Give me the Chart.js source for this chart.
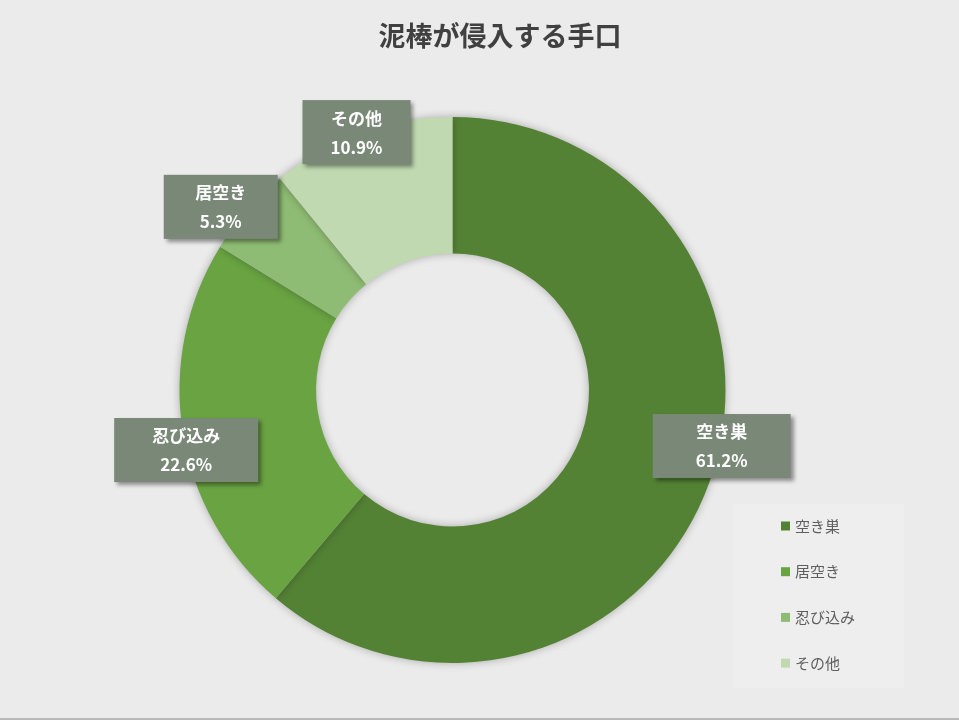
<!DOCTYPE html>
<html>
<head>
<meta charset="utf-8">
<script src="https://cdn.jsdelivr.net/npm/chart.js@4/dist/chart.umd.min.js"></script>
<style>
  html, body { margin: 0; padding: 0; background: #ebebeb; }
  #wrap { width: 959px; height: 720px; }
</style>
</head>
<body>
<div id="wrap"><canvas id="donut" width="959" height="720"></canvas></div>
<script>
const chartTitle = '泥棒が侵入する手口';
const categories = ['空き巣', '忍び込み', '居空き', 'その他'];
const shares = [61.2, 22.6, 5.3, 10.9];
// legend order as shown in the picture
const legendNames = ['空き巣', '居空き', '忍び込み', 'その他'];

const colors = ['#548235', '#69a342', '#8fbc74', '#c0d9b0'];
const font = '"Noto Sans CJK JP", "Noto Sans", sans-serif';

// label placement tweaks (degrees along arc, radius factor) and box widths
const labelShift = [-8.4, -3.7, -2.9, -0.8];
const labelRadius = [1.007, 1.0, 1.082, 1.008];
const boxWidths = [138, 144, 114, 108];

const backdrop = {
  id: 'backdrop',
  beforeDraw(chart) {
    const ctx = chart.ctx;
    ctx.save();
    ctx.fillStyle = '#ebebeb';
    ctx.fillRect(0, 0, chart.width, chart.height);
    ctx.fillStyle = '#b8b8b8';
    ctx.fillRect(0, chart.height - 2, chart.width, 2);
    // title
    ctx.fillStyle = '#404040';
    ctx.font = 'bold 27px ' + font;
    ctx.textAlign = 'center';
    ctx.textBaseline = 'middle';
    ctx.fillText(chartTitle, 500, 36);
    ctx.restore();
  },
  beforeDatasetsDraw(chart) {
    const ctx = chart.ctx;
    ctx.save();
    ctx.shadowColor = 'rgba(0,0,0,0.28)';
    ctx.shadowBlur = 9;
  },
  afterDatasetsDraw(chart) {
    const ctx = chart.ctx;
    ctx.restore();

    // data labels
    const arcs = chart.getDatasetMeta(0).data;
    arcs.forEach((arc, i) => {
      const p = arc.getProps(['x', 'y', 'startAngle', 'endAngle', 'outerRadius'], true);
      const mid = (p.startAngle + p.endAngle) / 2 + labelShift[i] * Math.PI / 180;
      const r = p.outerRadius * labelRadius[i];
      const cx = p.x + Math.cos(mid) * r;
      const cy = p.y + Math.sin(mid) * r;
      const w = boxWidths[i], h = 64;
      ctx.save();
      ctx.shadowColor = 'rgba(0,0,0,0.4)';
      ctx.shadowBlur = 4;
      ctx.shadowOffsetX = 3;
      ctx.shadowOffsetY = 3;
      ctx.fillStyle = '#798877';
      ctx.fillRect(cx - w / 2, cy - h / 2, w, h);
      ctx.restore();
      ctx.save();
      ctx.fillStyle = '#ffffff';
      ctx.font = 'bold 17px ' + font;
      ctx.textAlign = 'center';
      ctx.textBaseline = 'middle';
      ctx.fillText(chart.data.labels[i], cx, cy - 14);
      ctx.fillText(shares[i].toFixed(1) + '%', cx, cy + 15);
      ctx.restore();
    });

    // legend
    ctx.save();
    ctx.fillStyle = '#eeeeee';
    ctx.fillRect(733, 504, 171, 184);
    ctx.font = '15px ' + font;
    ctx.textBaseline = 'middle';
    ctx.textAlign = 'left';
    legendNames.forEach((name, i) => {
      const y = 526 + i * 45.7;
      ctx.fillStyle = colors[i];
      ctx.fillRect(781, y - 4.5, 9, 9);
      ctx.fillStyle = '#5f5f5f';
      ctx.fillText(name, 795, y);
    });
    ctx.restore();
  }
};

new Chart(
  document.getElementById('donut'),
  {
    type: 'doughnut',
    data: {
      labels: categories,
      datasets: [
        {
          label: chartTitle,
          data: shares,
          backgroundColor: colors,
          borderWidth: 0,
          hoverOffset: 0
        }
      ]
    },
    options: {
      responsive: false,
      devicePixelRatio: 1,
      animation: false,
      cutout: '50%',
      layout: {
        padding: { top: 117, bottom: 57, left: 179, right: 233 }
      },
      plugins: {
        legend: { display: false },
        title: { display: false },
        tooltip: { enabled: false }
      }
    },
    plugins: [backdrop]
  }
);
</script>
</body>
</html>
